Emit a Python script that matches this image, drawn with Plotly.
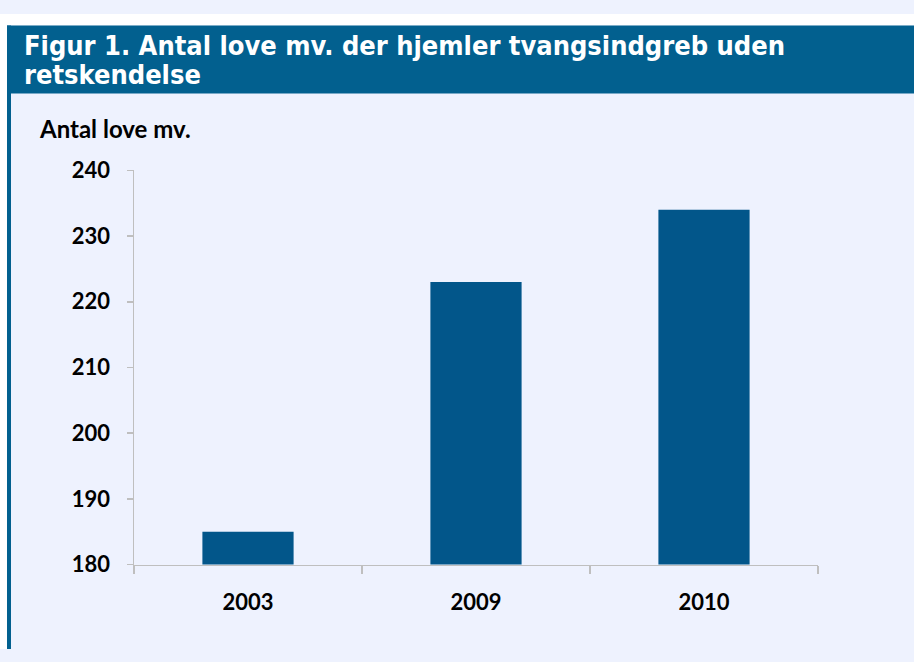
import plotly.graph_objects as go

categories = ["2003", "2009", "2010"]
values = [185, 223, 234]
y_ticks = [180, 190, 200, 210, 220, 230, 240]

W, H = 914, 662
BG = "#EEF2FE"
BAND = "#02608F"
BAR = "#02568A"
AXIS = "#BFBFBF"


def py(p):
    return 1 - p / H


fig = go.Figure(go.Bar(x=categories, y=values, marker=dict(color=BAR, line=dict(width=0)),
                       width=0.4, hoverinfo="skip"))

tick_font = dict(family="Lato", size=22, color="black", weight="bold")
title_font = dict(family="DejaVu Sans Condensed", size=27, color="white", weight="bold")

fig.update_layout(
    width=W, height=H,
    margin=dict(l=0, r=0, t=0, b=0),
    paper_bgcolor=BG, plot_bgcolor=BG,
    showlegend=False,
    bargap=0.6,
    xaxis=dict(domain=[134 / W, 818 / W], showline=True, linecolor=AXIS, linewidth=1.5,
               ticks="outside", tickson="boundaries", ticklen=8, tickcolor=AXIS, tickwidth=1.5,
               showgrid=False, zeroline=False, ticklabelstandoff=18, tickfont=tick_font,
               fixedrange=True),
    yaxis=dict(domain=[py(574), py(163)], range=[180, 240], tickvals=y_ticks,
               showline=True, linecolor=AXIS, linewidth=1.5,
               ticks="outside", ticklen=6, tickcolor=AXIS, tickwidth=1.5,
               showgrid=False, zeroline=False, ticklabelstandoff=12, tickfont=tick_font,
               fixedrange=True),
    shapes=[
        dict(type="rect", xref="paper", yref="paper", x0=0, x1=1, y0=py(12), y1=1,
             fillcolor="white", line=dict(width=0), layer="below"),
        dict(type="rect", xref="paper", yref="paper", x0=7 / W, x1=1, y0=py(83), y1=py(12),
             fillcolor=BAND, line=dict(width=0), layer="below"),
        dict(type="rect", xref="paper", yref="paper", x0=0, x1=7 / W, y0=0, y1=1,
             fillcolor="white", line=dict(width=0), layer="below"),
        dict(type="rect", xref="paper", yref="paper", x0=7 / W, x1=11 / W, y0=0, y1=py(12),
             fillcolor=BAND, line=dict(width=0), layer="below"),
    ],
    annotations=[
        dict(text="Figur 1. Antal love mv. der hjemler tvangsindgreb uden",
             xref="paper", yref="paper", x=22 / W, y=py(33), xanchor="left", yanchor="middle",
             showarrow=False, font=title_font),
        dict(text="retskendelse",
             xref="paper", yref="paper", x=22 / W, y=py(63), xanchor="left", yanchor="middle",
             showarrow=False, font=title_font),
        dict(text="Antal love mv.", xref="paper", yref="paper", x=37 / W, y=py(119),
             xanchor="left", yanchor="middle", showarrow=False,
             font=dict(family="Lato", size=24, color="black", weight="bold")),
    ],
)

fig.write_html(
    "out.html",
    config={"displayModeBar": False, "staticPlot": True},
    post_script="document.body.style.margin='0';document.body.style.overflow='hidden';",
)
